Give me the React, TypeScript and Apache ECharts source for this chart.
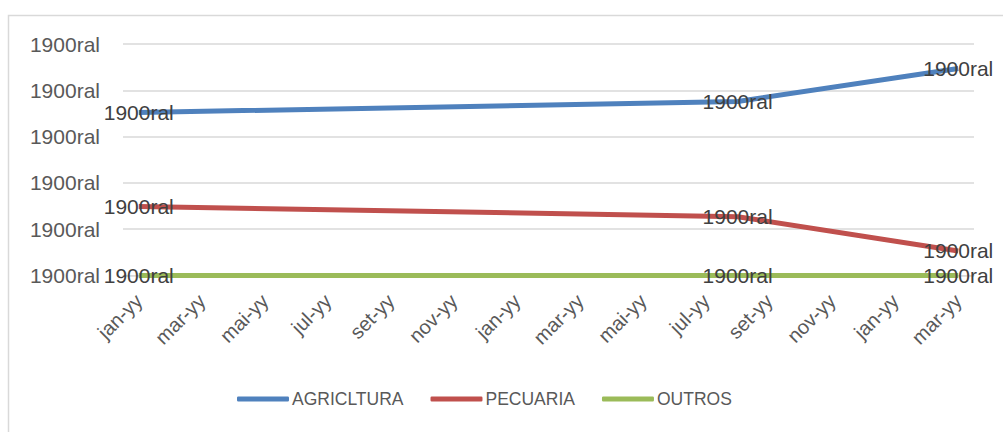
import React, { useEffect, useRef } from "react";
import * as echarts from "echarts";

const months = [
  "jan-yy", "fev-yy", "mar-yy", "abr-yy", "mai-yy", "jun-yy", "jul-yy", "ago-yy", "set-yy", "out-yy", "nov-yy", "dez-yy",
  "jan-yy", "fev-yy", "mar-yy", "abr-yy", "mai-yy", "jun-yy", "jul-yy", "ago-yy", "set-yy", "out-yy", "nov-yy", "dez-yy",
  "jan-yy", "fev-yy", "mar-yy",
];
const pointIndex = [0, 19, 26];
const agricultura = [3.52, 3.76, 4.47];
const pecuaria = [1.49, 1.27, 0.53];
const outros = [0, 0, 0];
const seriesNames = ["AGRICLTURA", "PECUARIA", "OUTROS"];
const colors = ["#4F81BD", "#C0504D", "#9BBB59"];
const brokenLabel = "1900ral";

const FONT = "'Liberation Sans', Arial, sans-serif";

export default function App() {
  const ref = useRef<HTMLDivElement>(null);
  useEffect(() => {
    if (!ref.current) return;
    const chart = echarts.init(ref.current, null, { renderer: "svg" });
    const values = [agricultura, pecuaria, outros];
    chart.setOption({
      animation: false,
      color: colors,
      graphic: [
        {
          type: "rect",
          shape: { x: 8.5, y: 15.5, width: 1100, height: 500 },
          style: { fill: "none", stroke: "#D9D9D9", lineWidth: 1.5 },
          silent: true,
        },
      ],
      grid: { left: 123, right: 29, top: 44, bottom: 156.5, containLabel: false },
      legend: {
        bottom: 19,
        left: 232,
        itemWidth: 52,
        itemHeight: 5,
        itemGap: 27,
        icon: "roundRect",
        textStyle: { fontFamily: FONT, fontSize: 17.5, color: "#595959", padding: [0, 0, 0, -2] },
        data: seriesNames.map((name, i) => ({ name, itemStyle: { color: colors[i], opacity: 1 } })),
      },
      xAxis: {
        type: "category",
        data: months,
        boundaryGap: true,
        axisLine: { show: true, lineStyle: { color: "#D9D9D9" } },
        axisTick: { show: false },
        axisLabel: {
          interval: 1,
          rotate: 45,
          margin: 22,
          fontFamily: FONT,
          fontSize: 20,
          color: "#595959",
        },
      },
      yAxis: {
        type: "value",
        min: 0,
        max: 5,
        interval: 1,
        axisLine: { show: false },
        axisTick: { show: false },
        splitLine: { lineStyle: { color: "#D9D9D9", width: 1.5 } },
        axisLabel: {
          formatter: () => brokenLabel,
          margin: 23,
          fontFamily: FONT,
          fontSize: 21,
          color: "#595959",
        },
      },
      series: seriesNames.map((name, s) => ({
        name,
        type: "line",
        data: pointIndex.map((idx, i) => [idx, values[s][i]]),
        symbol: "circle",
        symbolSize: 0,
        lineStyle: { width: 5, color: colors[s] },
        itemStyle: { color: colors[s] },
        z: 3 - s,
        label: {
          show: true,
          position: "inside",
          formatter: () => brokenLabel,
          fontFamily: FONT,
          fontSize: 21,
          color: "#404040",
        },
      })),
    });
    return () => chart.dispose();
  }, []);
  return (
    <div
      ref={ref}
      style={{ position: "fixed", left: 0, top: 0, width: 1003, height: 432, background: "#fff" }}
    />
  );
}
